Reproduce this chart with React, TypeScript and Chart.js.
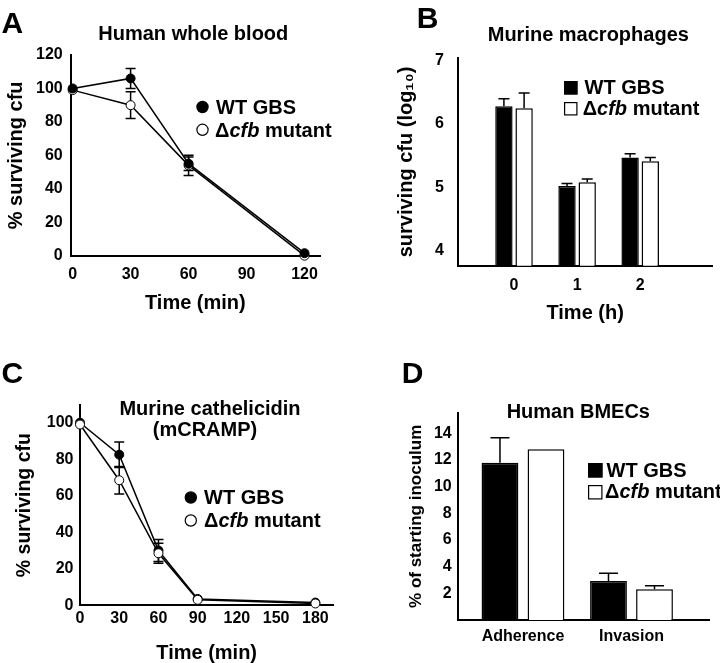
import React, { useEffect, useRef } from "react";
import { Chart, registerables } from "chart.js";

Chart.register(...registerables);

const FAMILY = "'Liberation Sans', Arial, Helvetica, sans-serif";
const BLACK = "#000000";
const WHITE = "#ffffff";

// ---------- Series names ----------
const wtLabel = "WT GBS";
const mutantLabelParts = ["Δ", "cfb", " mutant"]; // "cfb" in italics

// ---------- Panel A: Human whole blood ----------
const aTimes = [0, 30, 60, 120];
const aWT = [100, 106, 55, 1.5];
const aWTErr = [0, 6, 4, 0];
const aMut = [99, 90, 54, 0];
const aMutErr = [0, 8, 6, 0];
const aXTicks = [0, 30, 60, 90, 120];
const aYTicks = [0, 20, 40, 60, 80, 100, 120];

// ---------- Panel B: Murine macrophages ----------
const bTimes = [0, 1, 2];
const bWT = [6.28, 5.02, 5.47];
const bWTErr = [0.12, 0.04, 0.06];
const bMut = [6.25, 5.08, 5.41];
const bMutErr = [0.24, 0.05, 0.06];
const bYTicks = [4, 5, 6, 7];

// ---------- Panel C: Murine cathelicidin ----------
const cTimes = [0, 30, 60, 90, 180];
const cWT = [100, 82.5, 30, 3.5, 1.5];
const cWTErr = [0, 7, 6, 0, 0];
const cMut = [99, 68.5, 28.5, 3, 1];
const cMutErr = [0, 7.5, 5.5, 0, 0];
const cXTicks = [0, 30, 60, 90, 120, 150, 180];
const cYTicks = [0, 20, 40, 60, 80, 100];

// ---------- Panel D: Human BMECs ----------
const dCats = ["Adherence", "Invasion"];
const dWT = [11.8, 2.93];
const dWTErr = [1.88, 0.58];
const dMut = [12.8, 2.3];
const dMutErr = [0, 0.27];
const dYTicks = [2, 4, 6, 8, 10, 12, 14];

// ---------- helpers ----------
const boldFont = (size: number, lineHeight = 1.2) => ({
  family: FAMILY,
  size,
  weight: "bold" as const,
  lineHeight,
});

type TextItem = { text: string; x: number; y: number; size: number; align?: CanvasTextAlign };
type LegendRow = {
  marker: "circle" | "square";
  filled: boolean;
  mx: number;
  my: number;
  msize: number;
  tx: number;
  ty: number;
  kind: "wt" | "mut";
};

function drawSeriesLabel(ctx: CanvasRenderingContext2D, kind: "wt" | "mut", x: number, y: number) {
  ctx.fillStyle = BLACK;
  ctx.textAlign = "left";
  ctx.textBaseline = "alphabetic";
  if (kind === "wt") {
    ctx.font = `bold 20px ${FAMILY}`;
    ctx.fillText(wtLabel, x, y);
    return;
  }
  let cx = x;
  mutantLabelParts.forEach((part, i) => {
    ctx.font = i === 1 ? `italic bold 20px ${FAMILY}` : `bold 20px ${FAMILY}`;
    ctx.fillText(part, cx, y);
    cx += ctx.measureText(part).width;
  });
}

function decorPlugin(ox: number, oy: number, texts: TextItem[], legend: LegendRow[]) {
  return {
    id: "decor",
    afterDraw(chart: any) {
      const ctx: CanvasRenderingContext2D = chart.ctx;
      ctx.save();
      ctx.translate(-ox, -oy);
      for (const t of texts) {
        ctx.font = `bold ${t.size}px ${FAMILY}`;
        ctx.textAlign = t.align ?? "center";
        ctx.textBaseline = "alphabetic";
        ctx.fillStyle = BLACK;
        ctx.fillText(t.text, t.x, t.y);
      }
      for (const r of legend) {
        ctx.lineWidth = 1.2;
        ctx.strokeStyle = BLACK;
        ctx.fillStyle = r.filled ? BLACK : WHITE;
        if (r.marker === "circle") {
          ctx.beginPath();
          ctx.arc(r.mx, r.my, r.msize, 0, Math.PI * 2);
          ctx.fill();
          ctx.stroke();
        } else {
          ctx.fillRect(r.mx, r.my, r.msize, r.msize);
          ctx.strokeRect(r.mx + 0.6, r.my + 0.6, r.msize - 1.2, r.msize - 1.2);
        }
        drawSeriesLabel(ctx, r.kind, r.tx, r.ty);
      }
      ctx.restore();
    },
  };
}

function errorBarPlugin(capHalf: number, upOnly: boolean, behind: boolean) {
  const draw = (chart: any) => {
    const ctx: CanvasRenderingContext2D = chart.ctx;
    const ys = chart.scales.y;
    ctx.save();
    ctx.strokeStyle = BLACK;
    ctx.lineWidth = 1.5;
    chart.data.datasets.forEach((ds: any, i: number) => {
      const errs: number[] | undefined = ds.errors;
      if (!errs) return;
      const meta = chart.getDatasetMeta(i);
      meta.data.forEach((el: any, j: number) => {
        const e = errs[j];
        if (!e) return;
        const v = ds.data[j].y;
        const x = el.x;
        const top = ys.getPixelForValue(v + e);
        const bot = upOnly ? el.y : ys.getPixelForValue(v - e);
        ctx.beginPath();
        ctx.moveTo(x, top);
        ctx.lineTo(x, bot);
        ctx.moveTo(x - capHalf, top);
        ctx.lineTo(x + capHalf, top);
        if (!upOnly) {
          ctx.moveTo(x - capHalf, bot);
          ctx.lineTo(x + capHalf, bot);
        }
        ctx.stroke();
      });
    });
    ctx.restore();
  };
  return {
    id: "errorBars",
    beforeDatasetsDraw(c: any) {
      if (behind) draw(c);
    },
    afterDatasetsDraw(c: any) {
      if (!behind) draw(c);
    },
  };
}

type AxisOpts = {
  min: number;
  max: number;
  ticks: number[];
  fit: number;
  horizontal: boolean;
  tickPad: number;
  title?: string;
  titleSize?: number;
  label?: (v: number) => string;
};

function axis(o: AxisOpts) {
  return {
    type: "linear",
    min: o.min,
    max: o.max,
    offset: false,
    afterBuildTicks: (s: any) => {
      s.ticks = o.ticks.map((v) => ({ value: v }));
    },
    afterFit: (s: any) => {
      if (o.horizontal) s.height = o.fit;
      else s.width = o.fit;
    },
    grid: { display: false, drawTicks: false, offset: false },
    border: { display: true, color: BLACK, width: 2 },
    ticks: {
      color: BLACK,
      padding: o.tickPad,
      font: boldFont(16),
      autoSkip: false,
      maxRotation: 0,
      callback: (v: any) => (o.label ? o.label(Number(v)) : String(v)),
    },
    title: {
      display: !!o.title,
      text: o.title ?? "",
      color: BLACK,
      font: boldFont(o.titleSize ?? 20, 1),
      padding: o.horizontal ? { top: 0, bottom: 0 } : { top: 4, bottom: 0 },
    },
  };
}

const baseOptions = (padding: any) => ({
  responsive: false,
  animation: false,
  devicePixelRatio: 1,
  events: [],
  layout: { padding },
  plugins: { legend: { display: false }, tooltip: { enabled: false }, title: { display: false } },
});

const lineDataset = (label: string, xs: number[], ys: number[], errs: number[], filled: boolean) => ({
  label,
  data: xs.map((x, i) => ({ x, y: ys[i] })),
  errors: errs,
  borderColor: BLACK,
  borderWidth: 1.5,
  pointRadius: 4.5,
  pointBackgroundColor: filled ? BLACK : WHITE,
  pointBorderColor: BLACK,
  pointBorderWidth: 1,
  tension: 0,
  clip: false,
});

const barDataset = (label: string, xs: number[], ys: number[], errs: number[], filled: boolean, cat: number, bar: number) => ({
  label,
  data: xs.map((x, i) => ({ x, y: ys[i] })),
  errors: errs,
  backgroundColor: filled ? BLACK : WHITE,
  borderColor: BLACK,
  borderWidth: 1.5,
  categoryPercentage: cat,
  barPercentage: bar,
});

// ---------- chart configs ----------
function configA(): any {
  const ox = 0, oy = 0;
  return {
    type: "line",
    data: {
      datasets: [
        lineDataset(wtLabel, aTimes, aWT, aWTErr, true),
        lineDataset(mutantLabelParts.join(""), aTimes, aMut, aMutErr, false),
      ],
    },
    options: {
      ...baseOptions({ left: 2, top: 55, right: 40, bottom: 16.7 }),
      scales: {
        x: axis({ min: -1, max: 128, ticks: aXTicks, fit: 57.6, horizontal: true, tickPad: 9, title: "Time (min)" }),
        y: axis({ min: 0, max: 120, ticks: aYTicks, fit: 68.7, horizontal: false, tickPad: 8, title: "% surviving cfu" }),
      },
    },
    plugins: [
      errorBarPlugin(5, false, true),
      decorPlugin(
        ox,
        oy,
        [
          { text: "A", x: 1.5, y: 33.3, size: 30, align: "left" },
          { text: "Human whole blood", x: 193.3, y: 40, size: 20 },
        ],
        [
          { marker: "circle", filled: true, mx: 202.5, my: 107, msize: 5.6, tx: 216, ty: 113.5, kind: "wt" },
          { marker: "circle", filled: false, mx: 202.5, my: 129.8, msize: 5.6, tx: 215, ty: 136.5, kind: "mut" },
        ]
      ),
    ],
  };
}

function configB(): any {
  const ox = 360, oy = 0;
  return {
    type: "bar",
    data: {
      datasets: [
        barDataset(wtLabel, bTimes, bWT, bWTErr, true, 0.64, 0.86),
        barDataset(mutantLabelParts.join(""), bTimes, bMut, bMutErr, false, 0.64, 0.86),
      ],
    },
    options: {
      ...baseOptions({ left: 32.7, top: 58.3, right: 8, bottom: 6.7 }),
      scales: {
        x: axis({ min: -0.883, max: 3.138, ticks: bTimes, fit: 57.6, horizontal: true, tickPad: 10.4, title: "Time (h)" }),
        y: axis({ min: 3.76, max: 7.04, ticks: bYTicks, fit: 65.6, horizontal: false, tickPad: 14.3, title: "surviving cfu (log₁₀)" }),
      },
    },
    plugins: [
      errorBarPlugin(5.5, true, false),
      decorPlugin(
        ox,
        oy,
        [
          { text: "B", x: 416.7, y: 28.3, size: 30, align: "left" },
          { text: "Murine macrophages", x: 588.3, y: 40.5, size: 20 },
        ],
        [
          { marker: "square", filled: true, mx: 564, my: 81, msize: 13.5, tx: 584.5, ty: 94, kind: "wt" },
          { marker: "square", filled: false, mx: 564, my: 102, msize: 13.5, tx: 582.7, ty: 115, kind: "mut" },
        ]
      ),
    ],
  };
}

function configC(): any {
  const ox = 0, oy = 330;
  return {
    type: "line",
    data: {
      datasets: [
        lineDataset(mutantLabelParts.join(""), cTimes, cMut, cMutErr, false),
        lineDataset(wtLabel, cTimes, cWT, cWTErr, true),
      ],
    },
    options: {
      ...baseOptions({ left: 11.25, top: 75, right: 26.7, bottom: 0 }),
      scales: {
        x: axis({ min: 0, max: 193.7, ticks: cXTicks, fit: 57.7, horizontal: true, tickPad: 3.4, title: "Time (min)" }),
        y: axis({ min: 0, max: 109.7, ticks: cYTicks, fit: 68.75, horizontal: false, tickPad: 6.5, title: "% surviving cfu", titleSize: 19.5 }),
      },
    },
    plugins: [
      errorBarPlugin(5, false, true),
      decorPlugin(
        ox,
        oy,
        [
          { text: "C", x: 1.5, y: 383.3, size: 30, align: "left" },
          { text: "Murine cathelicidin", x: 210, y: 415, size: 20 },
          { text: "(mCRAMP)", x: 205, y: 436, size: 20 },
        ],
        [
          { marker: "circle", filled: true, mx: 190.8, my: 497.5, msize: 5.6, tx: 204, ty: 504, kind: "wt" },
          { marker: "circle", filled: false, mx: 190.8, my: 520.5, msize: 5.6, tx: 204, ty: 526.7, kind: "mut" },
        ]
      ),
    ],
  };
}

function configD(): any {
  const ox = 360, oy = 330;
  const dIdx = dCats.map((_, i) => i);
  return {
    type: "bar",
    data: {
      datasets: [
        barDataset(wtLabel, dIdx, dWT, dWTErr, true, 0.848, 0.8),
        barDataset(mutantLabelParts.join(""), dIdx, dMut, dMutErr, false, 0.848, 0.8),
      ],
    },
    options: {
      ...baseOptions({ left: 44.2, top: 82.7, right: 10.7, bottom: 10 }),
      scales: {
        x: axis({ min: -0.596, max: 1.717, ticks: dIdx, fit: 33, horizontal: true, tickPad: 7, label: (v) => dCats[v] ?? "" }),
        y: axis({ min: 0, max: 15.55, ticks: dYTicks, fit: 54.1, horizontal: false, tickPad: 6.6, title: "% of starting inoculum", titleSize: 17 }),
      },
    },
    plugins: [
      errorBarPlugin(9.5, true, false),
      decorPlugin(
        ox,
        oy,
        [
          { text: "D", x: 401.7, y: 383.3, size: 30, align: "left" },
          { text: "Human BMECs", x: 578.3, y: 418.3, size: 20 },
        ],
        [
          { marker: "square", filled: true, mx: 588, my: 463, msize: 14.5, tx: 606.5, ty: 476.7, kind: "wt" },
          { marker: "square", filled: false, mx: 588, my: 485, msize: 14.5, tx: 605, ty: 498.3, kind: "mut" },
        ]
      ),
    ],
  };
}

function Panel(props: { left: number; top: number; width: number; height: number; make: () => any }) {
  const ref = useRef<HTMLCanvasElement>(null);
  useEffect(() => {
    const chart = new Chart(ref.current as HTMLCanvasElement, props.make());
    return () => chart.destroy();
  }, []);
  return (
    <canvas
      ref={ref}
      width={props.width}
      height={props.height}
      style={{ position: "absolute", left: props.left, top: props.top, width: props.width, height: props.height }}
    />
  );
}

export default function App() {
  return (
    <div style={{ position: "fixed", left: 0, top: 0, width: 720, height: 663, background: WHITE, overflow: "hidden" }}>
      <Panel left={0} top={0} width={360} height={330} make={configA} />
      <Panel left={360} top={0} width={360} height={330} make={configB} />
      <Panel left={0} top={330} width={360} height={333} make={configC} />
      <Panel left={360} top={330} width={360} height={333} make={configD} />
    </div>
  );
}
